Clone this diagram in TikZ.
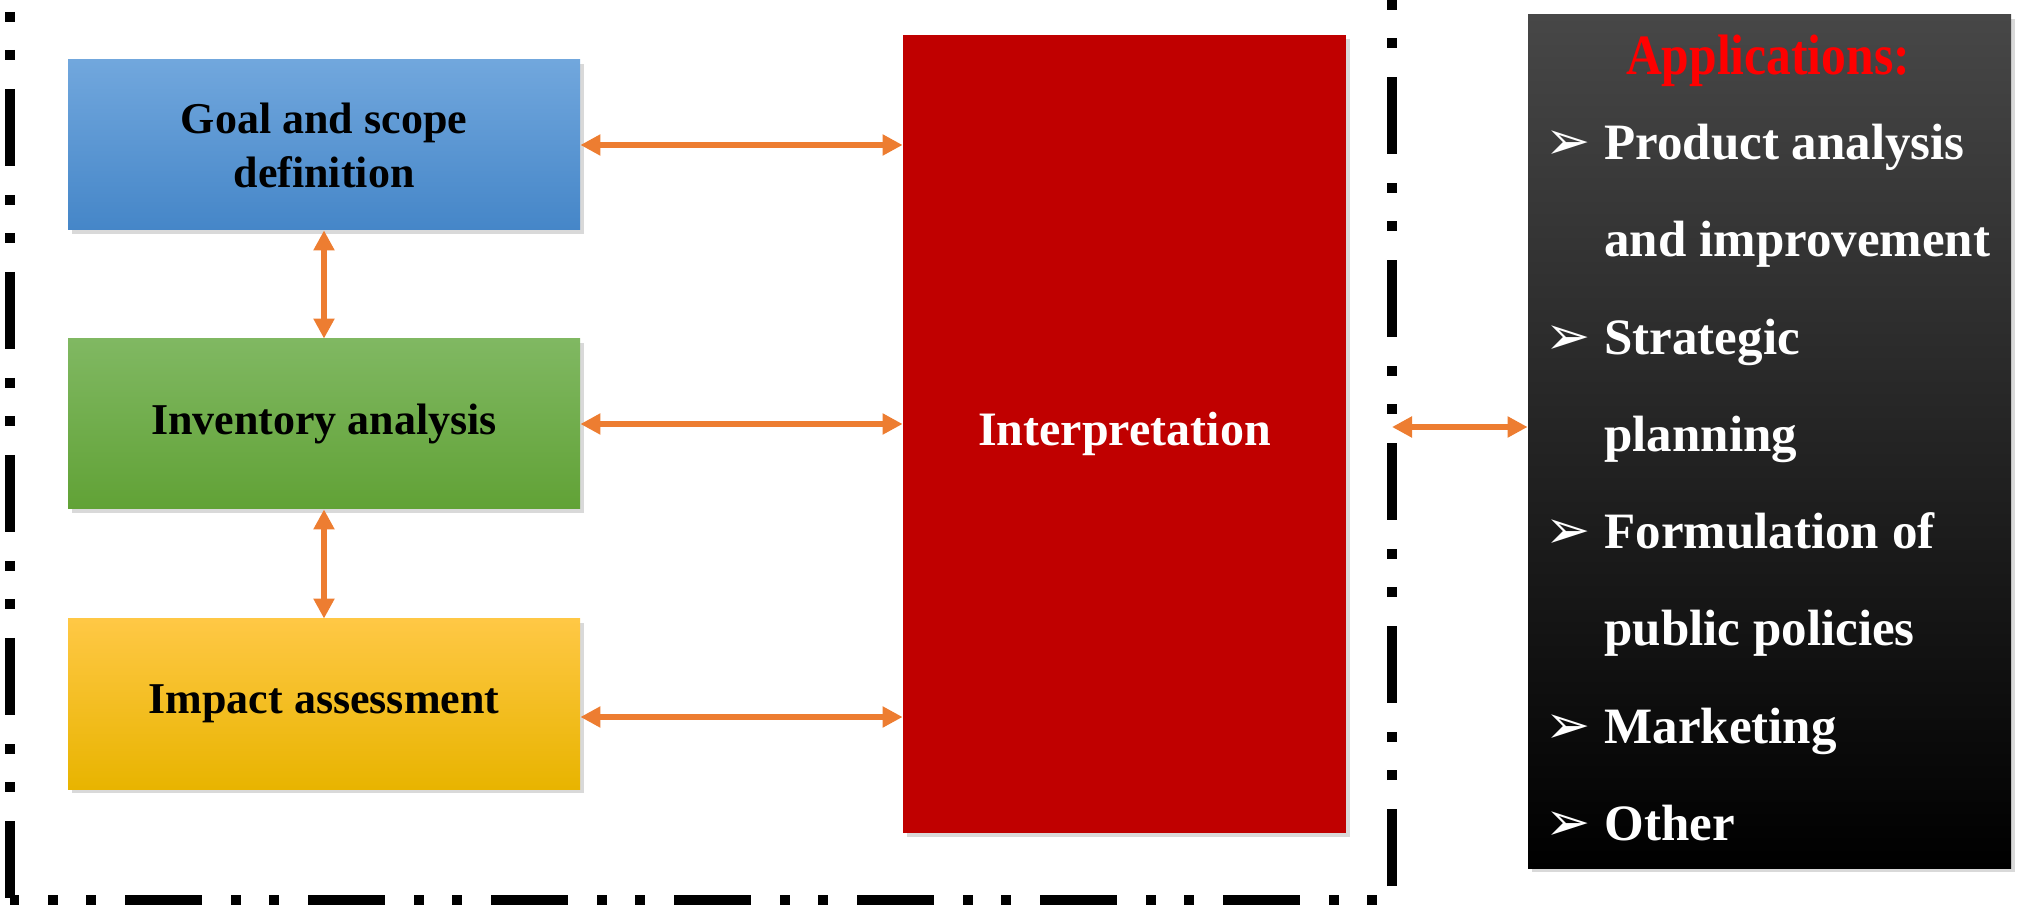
\documentclass[tikz,border=0pt]{standalone}
\usepackage{fontspec}
\usepackage{graphicx}
\setmainfont{Liberation Serif}
\newfontfamily\symfont{DejaVu Sans}
\usetikzlibrary{arrows.meta,shadows,calc}
\definecolor{arrorange}{HTML}{ED7D31}
\definecolor{interred}{HTML}{C00000}
\definecolor{apptitle}{HTML}{FF0000}
\definecolor{blueT}{HTML}{71A7DD}
\definecolor{blueM}{HTML}{5596D4}
\definecolor{blueB}{HTML}{4586C8}
\definecolor{greenT}{HTML}{80B862}
\definecolor{greenM}{HTML}{70AD47}
\definecolor{greenB}{HTML}{61A236}
\definecolor{yellowT}{HTML}{FFC845}
\definecolor{yellowM}{HTML}{FFC000}
\definecolor{yellowB}{HTML}{E8B400}
\definecolor{appT}{HTML}{474747}
\definecolor{appM}{HTML}{080808}
\begin{document}
\begin{tikzpicture}[x=0.5pt,y=-0.5pt,
  stagebox/.style={rectangle, inner sep=0pt, minimum width=256pt, minimum height=85pt,
    align=center, font=\fontsize{22}{27}\selectfont\bfseries,
    drop shadow={shadow xshift=2pt, shadow yshift=-2pt, opacity=0.3}},
  biarrow/.style={draw=arrorange, line width=3.2pt,
    {Triangle[length=10pt,width=10pt]}-{Triangle[length=10pt,width=10pt]}},
  frameline/.style={line width=5pt, dash pattern=on 38.5pt off 14.5pt on 5pt off 14pt on 5pt off 14.5pt},
  apptext/.style={anchor=base west, inner sep=0pt, text=white, font=\fontsize{25.5}{30}\selectfont\bfseries},
  appbullet/.style={anchor=base west, inner sep=0pt, text=white, font=\fontsize{27}{30}\selectfont\symfont}
]
\useasboundingbox (0,0) rectangle (2040,908);

% dash-dot frame
\draw[frameline, dash phase=47pt] (10,0) -- (10,900);
\draw[frameline, dash phase=34pt] (10,900) -- (1392,900) -- (1392,0);

% stage boxes
\node[stagebox, top color=blueT, middle color=blueM, bottom color=blueB] (goal) at (324,145) {Goal and scope\\definition};
\node[stagebox, top color=greenT, middle color=greenM, bottom color=greenB] (inv) at (324,424) {Inventory analysis};
\node[stagebox, top color=yellowT, middle color=yellowM, bottom color=yellowB] (imp) at (324,704) {Impact assessment};

% interpretation
\node[rectangle, inner sep=0pt, minimum width=221.5pt, minimum height=399pt, fill=interred,
  drop shadow={shadow xshift=2pt, shadow yshift=-2pt, opacity=0.3},
  text=white, font=\fontsize{24}{29}\selectfont\bfseries] (interp) at (1124.5,434) {Interpretation};

% applications box
\node[rectangle, inner sep=0pt, minimum width=241.5pt, minimum height=426.5pt,
  top color=appT, middle color=appM, bottom color=black,
  drop shadow={shadow xshift=2pt, shadow yshift=-2pt, opacity=0.3}] (apps) at (1769.5,441.5) {};

\node[anchor=base, inner sep=0pt, text=apptitle, font=\fontsize{28.5}{34}\selectfont\bfseries] (apptitle) at (1768,75) {\scalebox{0.87}[1]{Applications:}};

\node[appbullet] (b1) at (1545,160) {➢};
\node[apptext] (t1) at (1604,160) {Product analysis};
\node[apptext] (t2) at (1604,257) {and improvement};
\node[appbullet] (b2) at (1545,355) {➢};
\node[apptext] (t3) at (1604,355) {Strategic};
\node[apptext] (t4) at (1604,452) {planning};
\node[appbullet] (b3) at (1545,549) {➢};
\node[apptext] (t5) at (1604,549) {Formulation of};
\node[apptext] (t6) at (1604,646) {public policies};
\node[appbullet] (b4) at (1545,743) {➢};
\node[apptext] (t7) at (1604,743) {Marketing};
\node[appbullet] (b5) at (1545,840) {➢};
\node[apptext] (t8) at (1604,840) {Other};

% connectors
\draw[biarrow] (goal.east) -- (goal.east -| interp.west);
\draw[biarrow] (inv.east) -- (inv.east -| interp.west);
\draw[biarrow] ([yshift=-6.5pt]imp.east) -- ([yshift=-6.5pt]imp.east -| interp.west);
\draw[biarrow] (goal.south) -- (inv.north);
\draw[biarrow] (inv.south) -- (imp.north);
\coordinate (framept) at (1392,427);
\draw[biarrow] (framept) -- (framept -| apps.west);
\end{tikzpicture}
\end{document}
